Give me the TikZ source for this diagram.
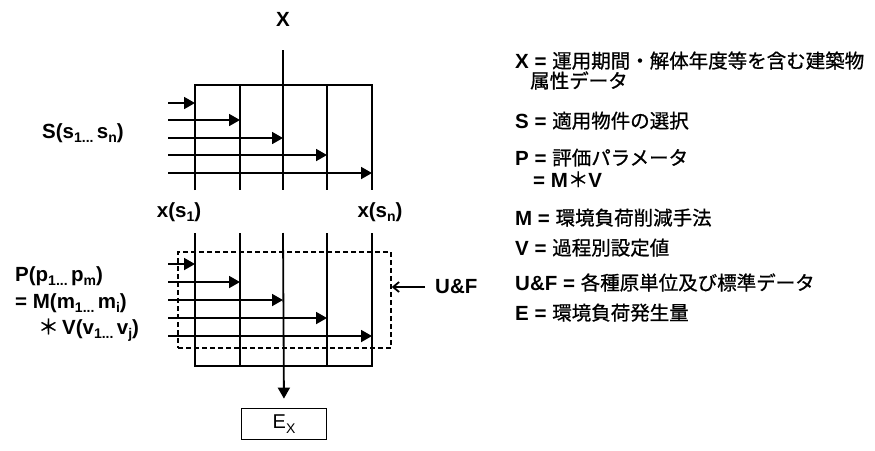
\documentclass[tikz,border=0pt]{standalone}
\usepackage{fontspec}
\setmainfont{Liberation Sans}
\newfontfamily\jp[FakeBold=0.8]{Noto Sans CJK JP}
\usetikzlibrary{arrows.meta}
\newcommand\sbs[1]{\raisebox{-0.4ex}{\fontsize{14}{14}\selectfont #1}}
\newcommand\J[1]{{\fontsize{19.5}{22}\selectfont\mdseries\jp #1}}
\tikzset{
  ln/.style={line width=1.8pt},
  arr/.style={ln,-{Triangle[length=11pt,width=12pt]}},
  lbl/.style={font=\fontsize{20.5}{24}\selectfont\bfseries, inner sep=0pt},
  rt/.style={lbl, anchor=base west},
}
\begin{document}
\begin{tikzpicture}[x=1pt,y=-1pt]
\useasboundingbox (0,0) rectangle (875,450);
% top grid
\draw[ln] (195,190) -- (195,85) -- (372,85) -- (372,190);
\foreach \x in {240,327} \draw[ln] (\x,85) -- (\x,190);
\draw[ln] (283,50) -- (283,190);
\foreach \x/\y in {195/103,240/120,283/138,327/155,372/173}
  \draw[arr] (168,\y) -- (\x,\y);
\node[lbl] (X) at (283,19) {X};
\node[lbl] (xs1) at (179,212) {x(s\sbs{1})};
\node[lbl] (xsn) at (380,212) {x(s\sbs{n})};
\node[lbl] (S) at (83,133) {S(s\sbs{1...}\,s\sbs{n})};
% bottom grid
\node[draw, line width=1.4pt, dash pattern=on 5pt off 3pt, minimum width=213pt, minimum height=96pt, inner sep=0pt] (uf) at (284.5,300) {};
\draw[ln] (195,233) -- (195,366) -- (372,366) -- (372,233);
\foreach \x in {240,327} \draw[ln] (\x,233) -- (\x,366);
\foreach \x/\y in {195/264,240/282,283/300,327/318,372/336}
  \draw[arr] (168,\y) -- (\x,\y);
\node[draw, ln, minimum width=85pt, minimum height=31pt, font=\fontsize{20}{22}\selectfont] (ex) at (284,424) {E\sbs{X}};
\draw[arr, shorten >=9pt] (283,233) -- (ex.north);
\node[lbl, anchor=west] (ufl) at (435,287) {U\&F};
\draw[ln, -{Straight Barb[length=6pt,width=10pt]}] ([xshift=-10pt]ufl.west) -- (uf.east |- ufl.west);
\node[lbl, anchor=west] (P1) at (15,276) {P(p\sbs{1...}\,p\sbs{m})};
\node[lbl, anchor=west] (P2) at (15,303) {= M(m\sbs{1...}\,m\sbs{i})};
\node[lbl, anchor=west] (P3) at (38,330) {{\mdseries\jp ＊}\,V(v\sbs{1...}\,v\sbs{j})};
% legend
\node[rt] (lx) at (515,68) {X = \J{運用期間・解体年度等を含む建築物}};
\node[rt] (lx2) at (530,88) {\J{属性データ}};
\node[rt] (ls) at (515,128) {S = \J{適用物件の選択}};
\node[rt] (lp) at (515,165) {P = \J{評価パラメータ}};
\node[rt] (lp2) at (533,187) {= M{\mdseries\jp ＊}V};
\node[rt] (lm) at (515,225) {M = \J{環境負荷削減手法}};
\node[rt] (lv) at (515,255) {V = \J{過程別設定値}};
\node[rt] (lu) at (515,290) {U\&F = \J{各種原単位及び標準データ}};
\node[rt] (le) at (515,320) {E = \J{環境負荷発生量}};
\end{tikzpicture}
\end{document}
